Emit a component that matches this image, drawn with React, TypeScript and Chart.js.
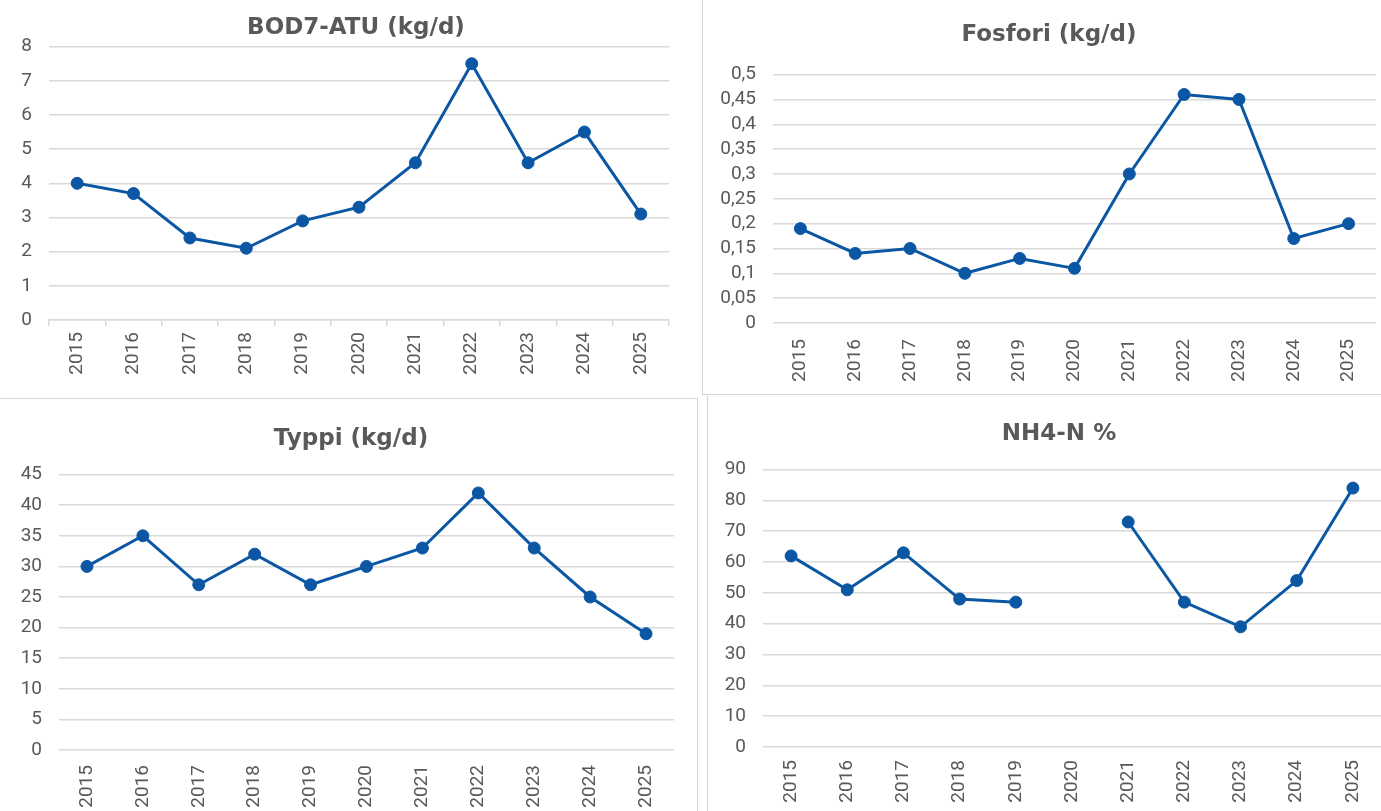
import React, { useEffect, useRef } from 'react';
import { Chart, registerables } from 'chart.js';

Chart.register(...registerables);

const years = ['2015', '2016', '2017', '2018', '2019', '2020', '2021', '2022', '2023', '2024', '2025'];
const bodValues = [4.0, 3.7, 2.4, 2.1, 2.9, 3.3, 4.6, 7.5, 4.6, 5.5, 3.1];
const fosforiValues = [0.19, 0.14, 0.15, 0.1, 0.13, 0.11, 0.3, 0.46, 0.45, 0.17, 0.2];
const typpiValues = [30, 35, 27, 32, 27, 30, 33, 42, 33, 25, 19];
const nh4Values = [62, 51, 63, 48, 47, null, 73, 47, 39, 54, 84];

const titles = ['BOD7-ATU (kg/d)', 'Fosfori (kg/d)', 'Typpi (kg/d)', 'NH4-N %'];
const yMaxes = [8, 0.5, 45, 90];
const ySteps = [1, 0.05, 5, 10];

const LINE = '#0b57a4';
const GRID = '#d9d9d9';
const TEXT = '#595959';
const TICK_FONT = 'Roboto, "Open Sans", sans-serif';
const TITLE_FONT = '"DejaVu Sans", sans-serif';

type Spec = {
  title: string;
  values: (number | null)[];
  yMax: number;
  yStep: number;
  left: number;
  top: number;
  width: number;
  height: number;
  padR: number;
  yWidth: number;
  xHeight: number;
  titleTop: number;
  titleBottom: number;
  axisLine: boolean;
  xPad: number;
};

const specs: Spec[] = [
  { title: titles[0], values: bodValues, yMax: yMaxes[0], yStep: ySteps[0], left: 0, top: 0, width: 712, height: 394, padR: 43, yWidth: 49, xHeight: 74, titleTop: 14, titleBottom: 5, axisLine: true, xPad: 6 },
  { title: titles[1], values: fosforiValues, yMax: yMaxes[1], yStep: ySteps[1], left: 702, top: 0, width: 694, height: 394, padR: 20, yWidth: 71, xHeight: 71, titleTop: 21, titleBottom: 26, axisLine: false, xPad: 10 },
  { title: titles[2], values: typpiValues, yMax: yMaxes[2], yStep: ySteps[2], left: 0, top: 398, width: 702, height: 425, padR: 28, yWidth: 59, xHeight: 73, titleTop: 27, titleBottom: 22, axisLine: false, xPad: 9 },
  { title: titles[3], values: nh4Values, yMax: yMaxes[3], yStep: ySteps[3], left: 707, top: 395, width: 704, height: 425, padR: 30, yWidth: 56, xHeight: 73, titleTop: 25, titleBottom: 22, axisLine: false, xPad: 7 },
];

function fmt(v: number): string {
  const r = Math.round(v * 1000) / 1000;
  return String(r).replace('.', ',');
}

function LineChart({ spec }: { spec: Spec }) {
  const ref = useRef<HTMLCanvasElement | null>(null);
  useEffect(() => {
    if (!ref.current) return;
    const chart = new Chart(ref.current, {
      type: 'line',
      data: {
        labels: years,
        datasets: [
          {
            data: spec.values,
            borderColor: LINE,
            backgroundColor: LINE,
            borderWidth: 3,
            pointRadius: 6,
            pointBackgroundColor: LINE,
            pointBorderColor: LINE,
            pointBorderWidth: 1,
            tension: 0,
            spanGaps: false,
          },
        ],
      },
      options: {
        animation: false,
        responsive: false,
        maintainAspectRatio: false,
        layout: { autoPadding: false, padding: 0 },
        plugins: {
          legend: { display: false },
          tooltip: { enabled: false },
          title: {
            display: true,
            text: spec.title,
            color: TEXT,
            font: { family: TITLE_FONT, size: 23, weight: 'bold', lineHeight: 1.2 },
            padding: { top: spec.titleTop, bottom: spec.titleBottom },
          },
        },
        scales: {
          x: {
            type: 'category',
            offset: true,
            grid: {
              display: spec.axisLine,
              drawOnChartArea: false,
              drawTicks: true,
              tickLength: 6,
              color: GRID,
              lineWidth: 1.5,
              offset: true,
            },
            border: { display: spec.axisLine, color: GRID, width: 1.5 },
            ticks: {
              autoSkip: false,
              maxRotation: 90,
              minRotation: 90,
              padding: spec.xPad,
              color: TEXT,
              font: { family: TICK_FONT, size: 19 },
            },
            afterFit: (scale: any) => {
              scale.height = spec.xHeight;
              scale.paddingLeft = 0;
              scale.paddingRight = 0;
            },
          },
          y: {
            min: 0,
            max: spec.yMax,
            grid: { color: GRID, lineWidth: 1.5, drawTicks: false },
            border: { display: false },
            ticks: {
              stepSize: spec.yStep,
              autoSkip: false,
              padding: 17,
              color: TEXT,
              font: { family: TICK_FONT, size: 19 },
              callback: (v: any) => fmt(Number(v)),
            },
            afterFit: (scale: any) => {
              scale.width = spec.yWidth;
              scale.paddingTop = 0;
              scale.paddingBottom = 0;
            },
          },
          spacer: {
            type: 'linear',
            position: 'right',
            display: true,
            grid: { display: false, drawTicks: false },
            border: { display: false },
            ticks: { display: false },
            afterFit: (scale: any) => {
              scale.width = spec.padR;
              scale.paddingTop = 0;
              scale.paddingBottom = 0;
            },
          },
        },
      } as any,
    });
    return () => chart.destroy();
  }, [spec]);
  return (
    <canvas
      ref={ref}
      width={spec.width}
      height={spec.height}
      style={{ position: 'absolute', left: spec.left, top: spec.top, width: spec.width, height: spec.height }}
    />
  );
}

const lineStyle = (l: number, t: number, w: number, h: number): React.CSSProperties => ({
  position: 'absolute',
  left: l,
  top: t,
  width: w,
  height: h,
  background: '#d4d4d4',
});

export default function App() {
  return (
    <div
      style={{
        position: 'fixed',
        left: 0,
        top: 0,
        width: 1381,
        height: 811,
        overflow: 'hidden',
        background: '#ffffff',
      }}
    >
      {specs.map((s, i) => (
        <LineChart key={i} spec={s} />
      ))}
      <div style={lineStyle(702, 0, 1, 394)} />
      <div style={lineStyle(702, 394, 679, 1)} />
      <div style={lineStyle(0, 398, 697, 1)} />
      <div style={lineStyle(697, 398, 1, 413)} />
      <div style={lineStyle(707, 396, 1, 415)} />
    </div>
  );
}
